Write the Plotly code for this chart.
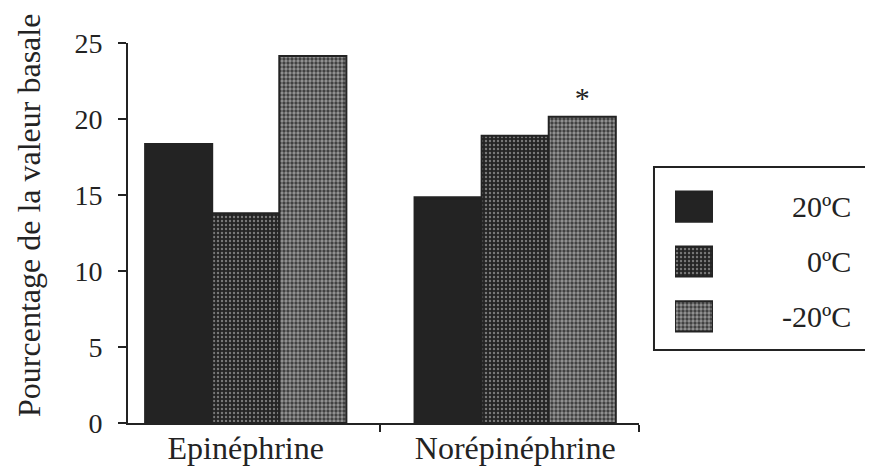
import plotly.graph_objects as go

categories = ["Epinéphrine", "Norépinéphrine"]
series_names = ["20ºC", "0ºC", "-20ºC"]
values_20 = [18.35, 14.85]
values_0 = [13.8, 18.9]
values_m20 = [24.15, 20.15]
signif_m20 = ["", "*"]
y_ticks = [0, 5, 10, 15, 20, 25]
legend_swatch = [1, 1, 1]
y_title = "Pourcentage de la valeur basale"

INK = "#232323"
FONT = "Liberation Serif"

styles = [
    dict(color=INK, pattern=None),
    dict(color="#4a4a4a", pattern=dict(shape=".", bgcolor="#242424", fgcolor="#d0d0d0", size=4, solidity=0.27)),
    dict(color="#8a8a8a", pattern=dict(shape=".", bgcolor="#3a3a3a", fgcolor="#e6e6e6", size=4, solidity=0.55)),
]
series_values = [values_20, values_0, values_m20]
series_text = [None, None, signif_m20]

cat_pos = list(range(len(categories)))

fig = go.Figure()
for name, vals, st, txt in zip(series_names, series_values, styles, series_text):
    marker = dict(color=st["color"], line=dict(color=INK, width=2))
    if st["pattern"]:
        marker["pattern"] = st["pattern"]
    fig.add_trace(go.Bar(
        x=cat_pos, y=vals, name=name, marker=marker,
        text=txt, textposition="outside" if txt else None,
        textfont=dict(family=FONT, size=30, color=INK),
        cliponaxis=False, showlegend=False,
        xaxis="x", yaxis="y",
    ))
    # legend swatch (drawn in a small axis inside the legend box)
    fig.add_trace(go.Bar(
        x=[legend_swatch[series_names.index(name)]], y=[name], orientation="h",
        marker=marker, width=0.55, showlegend=False, hoverinfo="skip",
        xaxis="x2", yaxis="y2",
    ))

fig.update_layout(
    width=873, height=469,
    margin=dict(l=120, r=28, t=35, b=54, autoexpand=False),
    paper_bgcolor="white", plot_bgcolor="white",
    barmode="group", bargap=0.253, bargroupgap=0,
    font=dict(family=FONT, color=INK, size=28),
    xaxis=dict(
        domain=[0, 0.705], range=[-0.437, 1.46], automargin=False,
        tickmode="array", tickvals=cat_pos, ticktext=categories,
        ticks="", showgrid=False, zeroline=False,
        showline=True, linecolor=INK, linewidth=2,
        tickfont=dict(family=FONT, size=32, color=INK),
        ticklabelstandoff=-4,
        minor=dict(tickmode="array", tickvals=[0.5, 1.459], ticks="outside",
                   ticklen=7, tickwidth=2, tickcolor=INK, showgrid=False),
    ),
    yaxis=dict(
        range=[0, 25], tickmode="array", tickvals=y_ticks, automargin=False,
        ticks="outside", ticklen=8, tickwidth=2, tickcolor=INK,
        showgrid=False, zeroline=False,
        showline=True, linecolor=INK, linewidth=2,
        tickfont=dict(family=FONT, size=28, color=INK),
        ticklabelstandoff=10,
    ),
    xaxis2=dict(domain=[0.7545, 0.8069], range=[0, 1], visible=False, anchor="y2"),
    yaxis2=dict(domain=[0.208, 0.642], range=[2.5, -0.5], visible=False, anchor="x2",
                type="category", categoryorder="array", categoryarray=series_names),
    shapes=[dict(type="rect", xref="paper", yref="paper",
                 x0=0.7255, x1=1.06, y0=0.192, y1=0.674,
                 line=dict(color=INK, width=2), fillcolor="rgba(0,0,0,0)")],
)

# y-axis title
fig.add_annotation(x=-0.1365, xref="paper", y=0.545, yref="paper", text=y_title,
                   textangle=-90, showarrow=False, xanchor="center", yanchor="middle",
                   font=dict(family=FONT, size=32, color=INK))

for name in series_names:
    fig.add_annotation(x=1.0, xref="paper", y=name, yref="y2",
                       text=name, showarrow=False, xanchor="right", yanchor="middle",
                       font=dict(family=FONT, size=30, color=INK))

fig.write_html("out.html")
